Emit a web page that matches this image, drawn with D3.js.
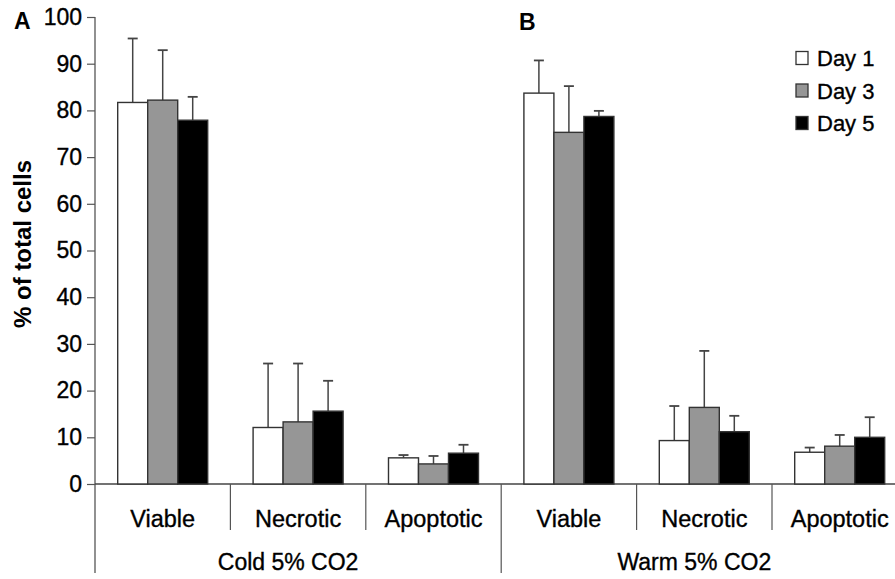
<!DOCTYPE html>
<html><head><meta charset="utf-8">
<script src="https://cdn.jsdelivr.net/npm/d3@7"></script>
<style>body{margin:0;background:#fff;} text{font-family:"Liberation Sans",Arial,sans-serif;}</style>
</head><body>
<svg id="chart" width="895" height="579"></svg>
<script>
const groups = ["Cold 5% CO2", "Warm 5% CO2"];
const categories = ["Viable", "Necrotic", "Apoptotic"];
const days = ["Day 1", "Day 3", "Day 5"];
const dayColors = ["#ffffff", "#969696", "#000000"];
// means[category][day]
const coldMeans = [[81.7, 82.2, 77.9], [12.1, 13.3, 15.6], [5.6, 4.3, 6.6]];
const coldErrTop = [[95.4, 92.9, 82.9], [25.8, 25.8, 22.1], [6.2, 6.0, 8.4]];
const warmMeans = [[83.7, 75.3, 78.7], [9.3, 16.4, 11.2], [6.8, 8.1, 10.0]];
const warmErrTop = [[90.7, 85.2, 79.9], [16.7, 28.5, 14.6], [7.8, 10.5, 14.3]];
const yTicks = [0, 10, 20, 30, 40, 50, 60, 70, 80, 90, 100];
const panelLabels = ["A", "B"];

const svg = d3.select("#chart");
const x0 = 95, bandW = 135.4, baseY = 484, topY = 17;
const slots = [];
groups.forEach((g, gi) => categories.forEach((c, ci) => slots.push({g, gi, c, ci, key: g + "|" + c})));
const x = d3.scaleBand().domain(slots.map(s => s.key)).range([x0, x0 + bandW * slots.length]);
const xi = d3.scaleBand().domain(days).range([(x.bandwidth() - 90) / 2, (x.bandwidth() + 90) / 2]);
const y = d3.scaleLinear().domain([0, 100]).range([baseY, topY]);

const data = [];
slots.forEach(s => {
  const m = s.gi === 0 ? coldMeans : warmMeans;
  const e = s.gi === 0 ? coldErrTop : warmErrTop;
  days.forEach((d, di) => data.push({slot: s.key, day: d, di, v: m[s.ci][di], e: e[s.ci][di]}));
});

const heavy = sel => sel.attr("stroke", "#000").attr("stroke-width", 0.35).attr("fill", "#000");

// y axis
const yAxis = d3.axisLeft(y).tickValues(yTicks).tickSize(8).tickPadding(5);
const ya = svg.append("g").attr("transform", `translate(${x0},0)`).call(yAxis);
ya.select(".domain").remove();
ya.selectAll(".tick line").attr("stroke", "#555").attr("stroke-width", 1.2);
ya.selectAll(".tick text").attr("font-size", 23).attr("font-family", '"Liberation Sans",Arial,sans-serif').call(heavy);

// axis lines
svg.append("line").attr("x1", x0).attr("x2", x0).attr("y1", topY).attr("y2", 573).attr("stroke", "#555").attr("stroke-width", 1.3);
svg.append("line").attr("x1", x0).attr("x2", 895).attr("y1", baseY).attr("y2", baseY).attr("stroke", "#444").attr("stroke-width", 1.3);

// dividers
slots.forEach((s, i) => {
  if (i === 0) return;
  const xx = x(s.key);
  svg.append("line").attr("x1", xx).attr("x2", xx).attr("y1", baseY)
    .attr("y2", s.ci === 0 ? 573 : 530).attr("stroke", "#555").attr("stroke-width", 1.2);
});

// error bars
const eb = svg.append("g");
data.forEach(d => {
  const cx = x(d.slot) + xi(d.day) + xi.bandwidth() / 2;
  eb.append("line").attr("x1", cx).attr("x2", cx).attr("y1", y(d.v)).attr("y2", y(d.e)).attr("stroke", "#444").attr("stroke-width", 1.5);
  eb.append("line").attr("x1", cx - 5).attr("x2", cx + 5).attr("y1", y(d.e)).attr("y2", y(d.e)).attr("stroke", "#444").attr("stroke-width", 1.8);
});

// bars
svg.append("g").selectAll("rect").data(data).join("rect")
  .attr("x", d => x(d.slot) + xi(d.day))
  .attr("width", xi.bandwidth())
  .attr("y", d => y(d.v))
  .attr("height", d => baseY - y(d.v))
  .attr("fill", d => dayColors[d.di])
  .attr("stroke", "#333").attr("stroke-width", 1.4);

// category labels
svg.append("g").selectAll("text").data(slots).join("text")
  .attr("x", d => x(d.key) + x.bandwidth() / 2)
  .attr("y", 527).attr("text-anchor", "middle").attr("font-size", 23.5).text(d => d.c).call(heavy);

// group labels
groups.forEach((g, gi) => {
  const start = x(g + "|" + categories[0]);
  const end = x(g + "|" + categories[categories.length - 1]) + x.bandwidth();
  svg.append("text").attr("x", (start + end) / 2 - 10).attr("y", 570)
    .attr("text-anchor", "middle").attr("font-size", 23).text(g).call(heavy);
});

// panel labels
svg.append("text").attr("x", 14).attr("y", 29).attr("font-size", 23).attr("font-weight", "bold").text(panelLabels[0]);
svg.append("text").attr("x", 519).attr("y", 30).attr("font-size", 23).attr("font-weight", "bold").text(panelLabels[1]);

// y title
svg.append("text").attr("transform", "translate(31,244) rotate(-90)")
  .attr("text-anchor", "middle").attr("font-size", 24).attr("font-weight", "bold").text("% of total cells");

// legend
const lg = svg.append("g");
days.forEach((d, i) => {
  const cy = 58 + i * 32.5;
  lg.append("rect").attr("x", 796).attr("y", cy - 6.5).attr("width", 12).attr("height", 13)
    .attr("fill", dayColors[i]).attr("stroke", "#333").attr("stroke-width", 1.3);
  lg.append("text").attr("x", 817).attr("y", cy + 8).attr("font-size", 22).text(d).call(heavy);
});
</script>
</body></html>
